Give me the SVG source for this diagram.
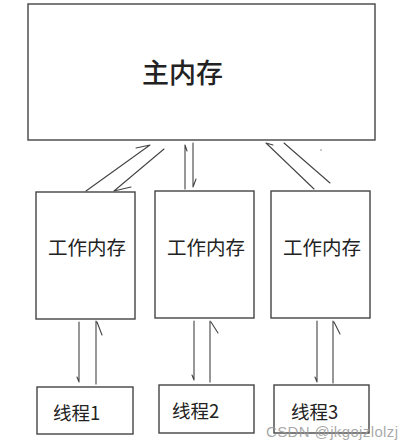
<svg xmlns="http://www.w3.org/2000/svg" width="413" height="448" viewBox="0 0 413 448">
<style>
.box{fill:#fff;stroke:#444;stroke-width:1.4}
.lbl{font-family:"Noto Sans CJK SC","Liberation Sans",sans-serif;fill:#222}
.ln{stroke:#444;stroke-width:1.1;fill:none;stroke-linecap:round}
</style>
<rect width="413" height="448" fill="#fff"/>
<g id="main">
<rect class="box" x="28" y="4" width="347" height="136"/>
<text class="lbl" x="142" y="83" font-size="27" font-weight="500">主内存</text>
</g>
<g id="work1">
<rect class="box" x="36" y="192" width="99" height="127"/>
<text class="lbl" x="48" y="255" font-size="19.5">工作内存</text>
</g>
<g id="work2">
<rect class="box" x="155" y="191" width="99" height="127"/>
<text class="lbl" x="167" y="255" font-size="19.5">工作内存</text>
</g>
<g id="work3">
<rect class="box" x="271" y="191" width="99" height="127"/>
<text class="lbl" x="283" y="255" font-size="19.5">工作内存</text>
</g>
<g id="thread1">
<rect class="box" x="37" y="387" width="96" height="47"/>
<text class="lbl" x="53" y="420" font-size="18.5">线程1</text>
</g>
<g id="thread2">
<rect class="box" x="159" y="385" width="95" height="48"/>
<text class="lbl" x="172" y="418" font-size="18.5">线程2</text>
</g>
<g id="thread3">
<rect class="box" x="274" y="385" width="95" height="48"/>
<text class="lbl" x="291" y="419" font-size="18.5">线程3</text>
</g>
<g id="connectors">
<path class="ln" d="M86 191 L150 145 M136 148 L150 145"/>
<path class="ln" d="M164 149 L114 191 M114 191 L131 187"/>
<path class="ln" d="M185 189 L185 145 M185 145 L187 151"/>
<path class="ln" d="M193 143 L193 187 M193 187 L196 179"/>
<path class="ln" d="M314 189 L266 143 M266 143 L273 145"/>
<path class="ln" d="M284 143 L330 183"/>
<path class="ln" d="M79 322 L79 382 M79 382 L77 377"/>
<path class="ln" d="M96 384 L96 321 M97 322 L102 335"/>
<path class="ln" d="M194 321 L194 380 M194 380 L192 375"/>
<path class="ln" d="M210 382 L210 321 M211 322 L218 333"/>
<path class="ln" d="M317 321 L317 382 M317 382 L315 377"/>
<path class="ln" d="M333 383 L333 321 M334 322 L340 334"/>
</g>
<circle cx="321" cy="150" r="0.8" fill="#888"/>
<text x="266" y="437" font-family="Liberation Sans,sans-serif" font-size="15" fill="#999" fill-opacity="0.85" textLength="132">CSDN @jkgojzlolzj</text>
</svg>
